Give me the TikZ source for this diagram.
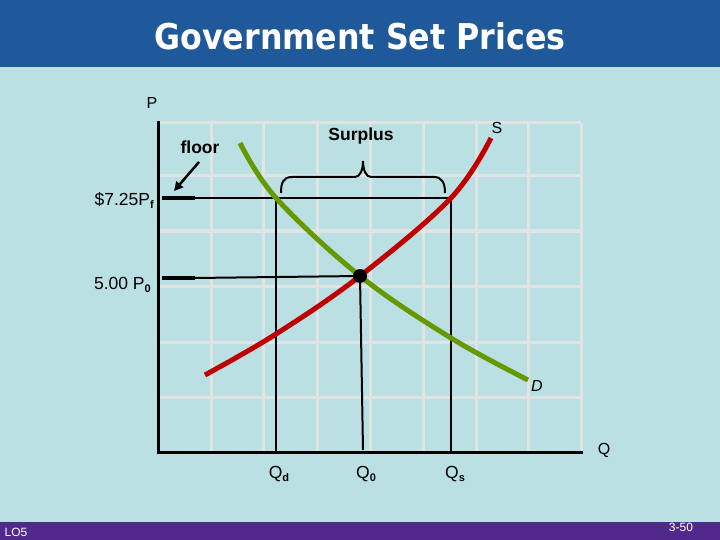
\documentclass[tikz,border=0pt]{standalone}
\usepackage{fontspec}
\setmainfont{Liberation Sans}
\newfontfamily\titlefont{DejaVu Sans}
\usetikzlibrary{arrows.meta}
\definecolor{bgc}{HTML}{BBE0E4}
\definecolor{titlec}{HTML}{20599A}
\definecolor{botc}{HTML}{51288C}
\definecolor{gridc}{HTML}{E2E4E4}
\definecolor{supc}{HTML}{C00000}
\definecolor{demc}{HTML}{669900}
\newcommand{\sbs}[1]{\raisebox{-3pt}{\fontsize{11}{11}\selectfont\bfseries #1}}
\tikzset{
  lbl/.style={inner sep=0pt, font=\fontsize{17.5}{17.5}\selectfont},
  slbl/.style={inner sep=0pt, font=\fontsize{16}{16}\selectfont},
  blbl/.style={inner sep=0pt, font=\fontsize{17.5}{17.5}\selectfont\bfseries},
  gridline/.style={gridc, line width=3pt},
  axis/.style={black, line width=3pt},
  guide/.style={black, line width=2pt},
  curve/.style={line width=5pt, line cap=butt},
}
\begin{document}
\begin{tikzpicture}[x=1pt,y=-1pt]
\useasboundingbox (0,0) rectangle (720,540);
\fill[bgc] (0,0) rectangle (720,540);
\fill[titlec] (0,0) rectangle (720,67);
\fill[botc] (0,522) rectangle (720,540);
\node[text=white, inner sep=0pt, anchor=base] (title) at (360,50) {\resizebox{411pt}{27pt}{\titlefont\bfseries Government Set Prices}};
\node[text=white, inner sep=0pt, font=\fontsize{12}{12}\selectfont] (lo) at (16,532) {LO5};
\node[text=white, inner sep=0pt, font=\fontsize{12}{12}\selectfont] (pg) at (681,527) {3-50};
% grid
\foreach \x in {211,263,317,370,423,476,528,581} \draw[gridline] (\x,123) -- (\x,451);
\foreach \y in {123,176,231,286,342,397} \draw[gridline] (159,\y) -- (581,\y);
% axes
\coordinate (o) at (158,452);
\coordinate (ytop) at (158,121);
\coordinate (xend) at (583,452);
\draw[axis] (ytop) -- (o) -- (xend);
% guide lines
\coordinate (pfl) at (162,198);
\coordinate (pfm) at (195,198);
\coordinate (qsTop) at (451,198);
\coordinate (qdTop) at (276,198);
\coordinate (p0l) at (162,278);
\coordinate (p0m) at (195,278);
\coordinate (eq) at (360,276);
\coordinate (qdB) at (276,452);
\coordinate (q0B) at (363,450);
\coordinate (qsB) at (451,452);
\draw[black, line width=4pt] (pfl) -- (pfm);
\draw[guide] (pfm) -- (qsTop) -- (qsB);
\draw[guide] (qdTop) -- (qdB);
\draw[black, line width=4pt] (p0l) -- (p0m);
\draw[guide] (p0m) -- (eq) -- (q0B);
% curves
\draw[curve, supc] plot[smooth, tension=0.6] coordinates {(205,375) (276,334) (360,276) (451,198) (491,138)};
\draw[curve, demc] plot[smooth, tension=0.6] coordinates {(240,143) (276,198) (360,276) (451,338) (528,380)};
\fill[black] (eq) circle (7);
% brace
\draw[black, line width=2pt] (281,193) .. controls (281,183) and (283,177) .. (292,177) -- (355,177) .. controls (360,177) and (363,170) .. (363,161) .. controls (363,170) and (366,177) .. (371,177) -- (434,177) .. controls (442,177) and (445,183) .. (445,193);
% labels
\node[slbl] (P) at (152,103) {P};
\node[slbl] (Q) at (604,450) {Q};
\node[slbl] (S) at (497,128) {S};
\node[slbl, font=\fontsize{16}{16}\selectfont\itshape] (D) at (537,386) {D};
\node[blbl] (surplus) at (361,136) {Surplus};
\node[blbl] (floor) at (200,147) {floor};
\coordinate (arrTip) at (174,191);
\draw[black, line width=2.5pt, -{Triangle[length=9pt,width=9pt]}] (199,162) -- (arrTip);
\node[lbl, anchor=base east] (pf) at (154,206) {\$7.25P\sbs{f}};
\node[lbl, anchor=base east] (p0) at (151,289) {5.00 P\sbs{0}};
\node[lbl, anchor=base] (qd) at (279,478) {Q\sbs{d}};
\node[lbl, anchor=base] (q0) at (366,478) {Q\sbs{0}};
\node[lbl, anchor=base] (qs) at (455,478) {Q\sbs{s}};
\end{tikzpicture}
\end{document}
